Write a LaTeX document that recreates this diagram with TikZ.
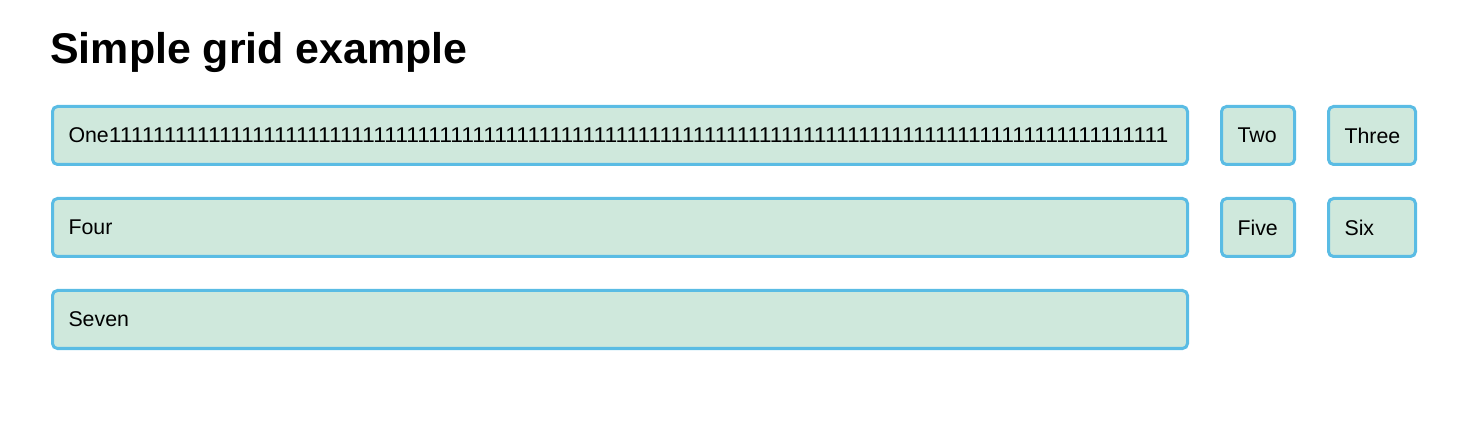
\documentclass[tikz,border=0pt]{standalone}
\usepackage{fontspec}
\setmainfont{Liberation Sans}
\usepackage{xcolor}
\usepackage{tikz}
\usetikzlibrary{positioning}
\definecolor{GridBlue}{RGB}{90, 188, 228}
\definecolor{GridGreen}{RGB}{207, 232, 220}

\begin{document}
\begin{tikzpicture}[x=0.75pt, y=-0.75pt, node distance=25.5pt,
    cell/.style={draw=GridBlue, fill=GridGreen, line width=2.25pt,
        rounded corners=3.75pt, outer sep=0pt, inner xsep=12pt, inner ysep=0pt,
        minimum height=43.5pt, text width=#1, align=left,
        font=\fontsize{16}{19}\selectfont}]
    \useasboundingbox (0,0) rectangle (1473,441);
    \node[anchor=base west, inner sep=0pt, font=\fontsize{32.2}{38}\selectfont\bfseries]
        (title) at (50,64) {Simple grid example};
    % first row
    \node[cell=827.25pt, anchor=north west] (one) at (52.5,106.5)
        {One\scalebox{1.072}[1]{\foreach \k in {1,...,96}{1}}};
    \node[cell=30.75pt, right=of one] (two) {Two};
    \node[cell=41.25pt, right=of two] (three) {Three};
    % second row
    \node[cell=827.25pt, below=of one] (four) {Four};
    \node[cell=30.75pt, below=of two] (five) {Five};
    \node[cell=41.25pt, below=of three] (six) {Six};
    % third row
    \node[cell=827.25pt, below=of four] (seven) {Seven};
\end{tikzpicture}
\end{document}
